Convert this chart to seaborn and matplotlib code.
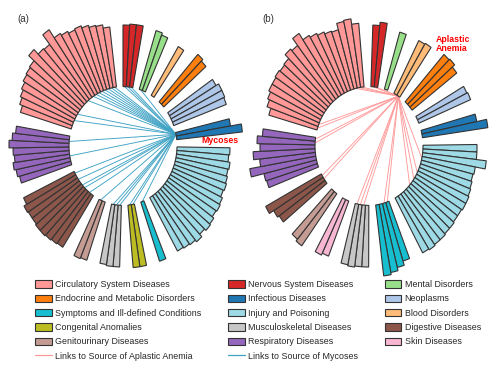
#############################################
########## 1. Import Libraries
#############################################
import numpy as np
import pandas as pd
import matplotlib
matplotlib.use("Agg")
import matplotlib.pyplot as plt
from matplotlib.patches import Patch
from matplotlib.lines import Line2D
import seaborn as sns

#############################################
########## 2. Data
#############################################

# Disease categories (legend order) and their tab20 colour index
categories = ["Circulatory System Diseases", "Endocrine and Metabolic Disorders",
              "Symptoms and Ill-defined Conditions", "Congenital Anomalies",
              "Genitourinary Diseases", "Nervous System Diseases", "Infectious Diseases",
              "Injury and Poisoning", "Musculoskeletal Diseases", "Respiratory Diseases",
              "Mental Disorders", "Neoplasms", "Blood Disorders", "Digestive Diseases",
              "Skin Diseases"]
palette_index = [7, 2, 18, 16, 11, 6, 0, 19, 15, 8, 5, 1, 3, 10, 13]

# Panel (a): groups clockwise from the top, outer radius of every bar
a_order = ["Nervous System Diseases", "Mental Disorders", "Blood Disorders",
           "Endocrine and Metabolic Disorders", "Neoplasms", "Infectious Diseases",
           "Injury and Poisoning", "Symptoms and Ill-defined Conditions", "Congenital Anomalies",
           "Musculoskeletal Diseases", "Genitourinary Diseases", "Digestive Diseases",
           "Respiratory Diseases", "Circulatory System Diseases"]
a_nervous = [110, 111, 111]
a_mental = [110, 108]
a_blood = [106]
a_endocrine = [112, 110]
a_neoplasms = [108, 111, 111, 110]
a_infectious = [109, 120]
a_injury = [107, 106, 108, 107, 108, 109, 108, 110, 111, 110, 112, 113, 111, 114, 112, 111, 110]
a_symptoms = [111]
a_congenital = [111, 111]
a_musculo = [110, 110, 109]
a_genito = [110, 111]
a_digestive = [110, 111, 112, 113, 113, 112, 112, 113, 110]
a_respiratory = [107, 109, 111, 109, 110, 114, 111, 108]
a_circulatory = [107, 110, 112, 114, 116, 117, 118, 125, 119, 118, 129, 120, 118, 116, 117, 115, 113, 112, 109]

# Panel (b)
b_order = ["Nervous System Diseases", "Mental Disorders", "Blood Disorders",
           "Endocrine and Metabolic Disorders", "Neoplasms", "Infectious Diseases",
           "Injury and Poisoning", "Symptoms and Ill-defined Conditions",
           "Musculoskeletal Diseases", "Skin Diseases", "Genitourinary Diseases",
           "Digestive Diseases", "Respiratory Diseases", "Circulatory System Diseases"]
b_nervous = [110, 113]
b_mental = [108]
b_blood = [108, 109]
b_endocrine = [112, 113, 110]
b_neoplasms = [109, 110]
b_infectious = [110, 120]
b_injury = [108, 108, 118, 108, 107, 108, 109, 110, 110, 109, 109, 110, 110, 111, 111, 112, 111]
b_symptoms = [110, 114, 117, 119]
b_musculo = [110, 110, 111, 110]
b_skin = [108, 110]
b_genito = [113, 111]
b_digestive = [110, 112, 117]
b_respiratory = [107, 108, 121, 110, 116, 109, 112, 107]
b_circulatory = [104, 108, 110, 112, 112, 113, 112, 113, 118, 116, 124, 117, 115, 113, 111, 110, 116, 117, 112]

# Links (target bars, by group and position within group)
a_source = ("Infectious Diseases", 0)
a_links = {
    "Nervous System Diseases": [0, 1, 2],
    "Mental Disorders": [0],
    "Symptoms and Ill-defined Conditions": [0],
    "Congenital Anomalies": [0, 1],
    "Musculoskeletal Diseases": [0, 1, 2],
    "Genitourinary Diseases": [1],
    "Digestive Diseases": [1, 3, 4, 6, 8],
    "Respiratory Diseases": [2, 6],
    "Circulatory System Diseases": [2, 4, 9, 11, 12, 13, 14, 15, 16, 17, 18],
}
b_source = ("Blood Disorders", 1)
b_links = {
    "Nervous System Diseases": [0, 1],
    "Injury and Poisoning": [3, 7, 9, 11],
    "Symptoms and Ill-defined Conditions": [0, 1],
    "Musculoskeletal Diseases": [1, 2, 3],
    "Digestive Diseases": [1, 2],
    "Respiratory Diseases": [6, 7],
    "Circulatory System Diseases": [0, 1, 16, 17, 18],
}

#############################################
########## 3. Helpers
#############################################
INNER = 54       # radius where the bars start
RMAX = 135       # radial limit of each panel
STRETCH = 1.1    # vertical stretch of the circles
GAP = 2          # empty slots between groups


def layout(order, values, offset):
    rows = []
    slot = 0
    for group, vals in zip(order, values):
        for i, v in enumerate(vals):
            rows.append({"group": group, "idx": i, "slot": slot, "outer": v})
            slot += 1
        slot += GAP
    df = pd.DataFrame(rows)
    width = 2 * np.pi / slot
    df["theta"] = np.deg2rad(offset) + (df["slot"] + 0.5) * width
    return df, width


def draw_panel(ax, df, width, source, links, link_color):
    ax.set_theta_zero_location("N")
    ax.set_theta_direction(-1)
    ax.set_ylim(0, RMAX)
    ax.set_aspect("auto")
    ax.set_axis_off()

    # Links from the source bar to its targets
    src = df[(df.group == source[0]) & (df.idx == source[1])].iloc[0]
    for group, idxs in links.items():
        for i in idxs:
            tgt = df[(df.group == group) & (df.idx == i)].iloc[0]
            ax.plot([src.theta, tgt.theta], [INNER, INNER], color=link_color,
                    lw=0.65, zorder=1, clip_on=False)

    # Bars
    ax.bar(df["theta"], df["outer"] - INNER, width=width, bottom=INNER,
           color=[colors[g] for g in df["group"]], edgecolor="#333333",
           linewidth=0.8, align="center", zorder=2, clip_on=False)
    return src


#############################################
########## 4. Plot
#############################################
sns.set_theme(style="white")
plt.rcParams["font.family"] = ["Liberation Sans", "DejaVu Sans"]

pal = sns.color_palette("tab20")
colors = {c: pal[i] for c, i in zip(categories, palette_index)}
myco_color = "#3fa2c4"
aplastic_color = "#ff9a9a"

fig = plt.figure(figsize=(5, 3.65), dpi=100)
W, H = 500, 365


def panel_rect(cx, cy):
    return [(cx - RMAX) / W, (H - cy - STRETCH * RMAX) / H, 2 * RMAX / W, 2 * STRETCH * RMAX / H]


ax_a = fig.add_axes(panel_rect(123, 146), projection="polar")
ax_b = fig.add_axes(panel_rect(369, 146), projection="polar")

a_values = [a_nervous, a_mental, a_blood, a_endocrine, a_neoplasms, a_infectious, a_injury,
            a_symptoms, a_congenital, a_musculo, a_genito, a_digestive, a_respiratory, a_circulatory]
b_values = [b_nervous, b_mental, b_blood, b_endocrine, b_neoplasms, b_infectious, b_injury,
            b_symptoms, b_musculo, b_skin, b_genito, b_digestive, b_respiratory, b_circulatory]

df_a, w_a = layout(a_order, a_values, 0)
df_b, w_b = layout(b_order, b_values, 2)

draw_panel(ax_a, df_a, w_a, a_source, a_links, myco_color)
draw_panel(ax_b, df_b, w_b, b_source, b_links, aplastic_color)

# Source labels
ax_a.text(np.deg2rad(87.3), 97, "Mycoses", color="#ff0000", fontsize=6.3,
          fontweight="bold", ha="center", va="center")
ax_b.text(np.deg2rad(35.8), 114.6, "Aplastic\nAnemia", color="#ff0000", fontsize=6.3,
          fontweight="bold", ha="left", va="center", linespacing=1.05)

# Panel letters
fig.text(17 / W, 1 - 19 / H, "(a)", fontsize=7, color="#333333", va="center", ha="left")
fig.text(262 / W, 1 - 19 / H, "(b)", fontsize=7, color="#333333", va="center", ha="left")

# Legend
handles = [Patch(facecolor=colors[c], edgecolor="#333333", linewidth=0.8, label=c)
           for c in categories]
handles.insert(5, Line2D([], [], color=aplastic_color, lw=0.9,
                         label="Links to Source of Aplastic Anemia"))
handles.insert(11, Line2D([], [], color=myco_color, lw=0.9,
                          label="Links to Source of Mycoses"))
fig.legend(handles=handles, ncol=3, loc="upper left", bbox_to_anchor=(35 / W, 1 - 280 / H),
           frameon=False, fontsize=6.4, handlelength=1.9, handleheight=0.9,
           handletextpad=0.35, labelspacing=0.6, columnspacing=3.0,
           borderpad=0, borderaxespad=0)

plt.savefig("out.png", dpi=100)
